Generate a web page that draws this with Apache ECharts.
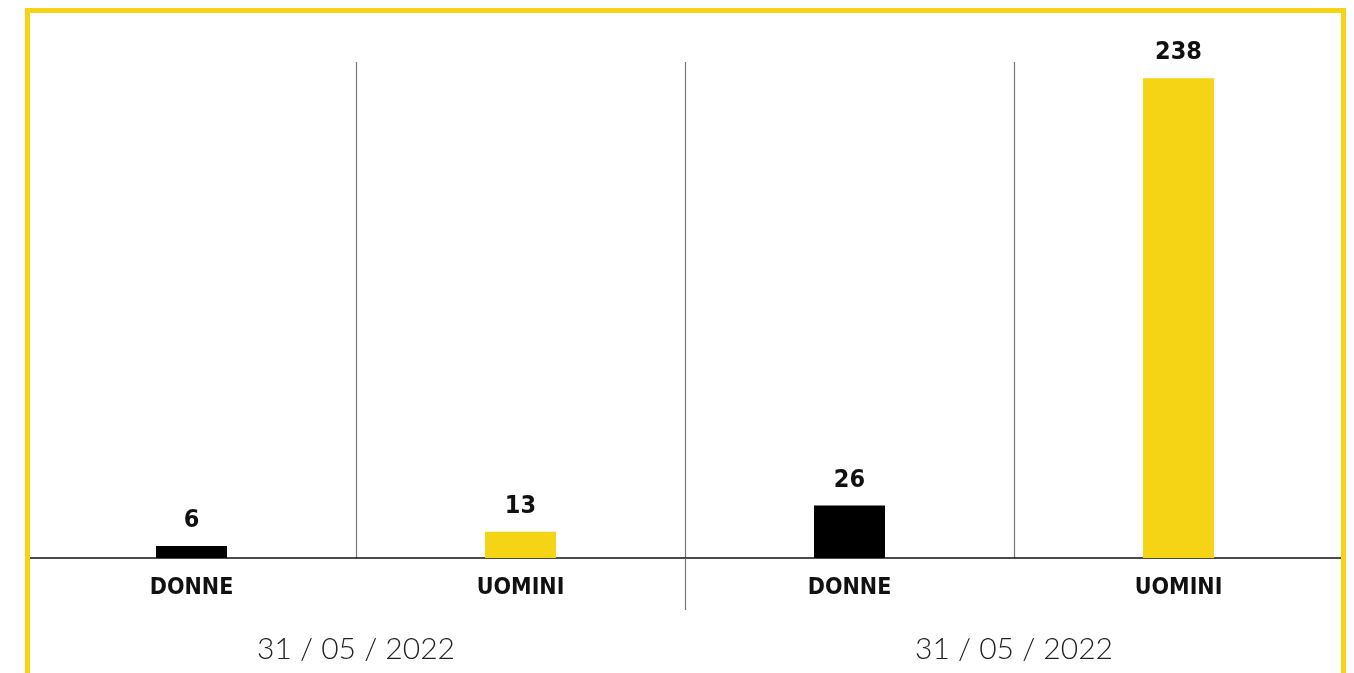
<!DOCTYPE html>
<html>
<head>
<meta charset="utf-8">
<script src="https://cdn.jsdelivr.net/npm/echarts@6/dist/echarts.min.js"></script>
<style>
html,body{margin:0;padding:0;background:#fff;}
#chart{width:1354px;height:673px;}
</style>
</head>
<body>
<div id="chart"></div>
<script>
// Data
const categories = ['DONNE', 'UOMINI', 'DONNE', 'UOMINI'];
const values = [6, 13, 26, 238];
const groupLabels = ['31 / 05 / 2022', '31 / 05 / 2022'];
// Styles
const barColors = ['#000000', '#F5D416', '#000000', '#F5D416'];

const narrow = "'Liberation Sans Narrow', 'DejaVu Sans Condensed', sans-serif";

const chart = echarts.init(document.getElementById('chart'));
chart.setOption({
  animation: false,
  backgroundColor: '#ffffff',
  grid: { left: 27, right: 11, top: 62, bottom: 115, containLabel: false },
  xAxis: [
    {
      type: 'category',
      data: categories,
      boundaryGap: true,
      axisLine: { show: true, lineStyle: { color: '#111', width: 1.5 } },
      axisTick: { show: false },
      splitLine: { show: true, lineStyle: { color: '#777', width: 1.2 } },
      axisLabel: {
        interval: 0,
        margin: 19,
        color: '#111',
        fontFamily: narrow,
        fontWeight: 'bold',
        fontSize: 23
      }
    },
    {
      type: 'category',
      data: groupLabels,
      position: 'bottom',
      offset: 0,
      boundaryGap: true,
      axisLine: { show: false },
      axisTick: { show: true, length: 52, lineStyle: { color: '#777', width: 1.2 } },
      splitLine: { show: false },
      axisLabel: {
        interval: 0,
        margin: 76,
        color: '#222',
        fontFamily: "Lato, 'Open Sans', sans-serif",
        fontWeight: 300,
        fontSize: 30
      }
    }
  ],
  yAxis: {
    type: 'value',
    min: 0,
    max: 246,
    show: false
  },
  series: [
    {
      type: 'bar',
      xAxisIndex: 0,
      data: values,
      barWidth: 71,
      itemStyle: { color: (p) => barColors[p.dataIndex] },
      label: {
        show: true,
        position: 'top',
        distance: 13,
        color: '#111',
        fontFamily: narrow,
        fontWeight: 'bold',
        fontSize: 25
      }
    }
  ],
  graphic: [
    {
      type: 'rect',
      z: 100,
      silent: true,
      shape: { x: 27.5, y: 10.5, width: 1316, height: 720 },
      style: { fill: 'none', stroke: '#F5D416', lineWidth: 5 }
    }
  ]
});
</script>
</body>
</html>
